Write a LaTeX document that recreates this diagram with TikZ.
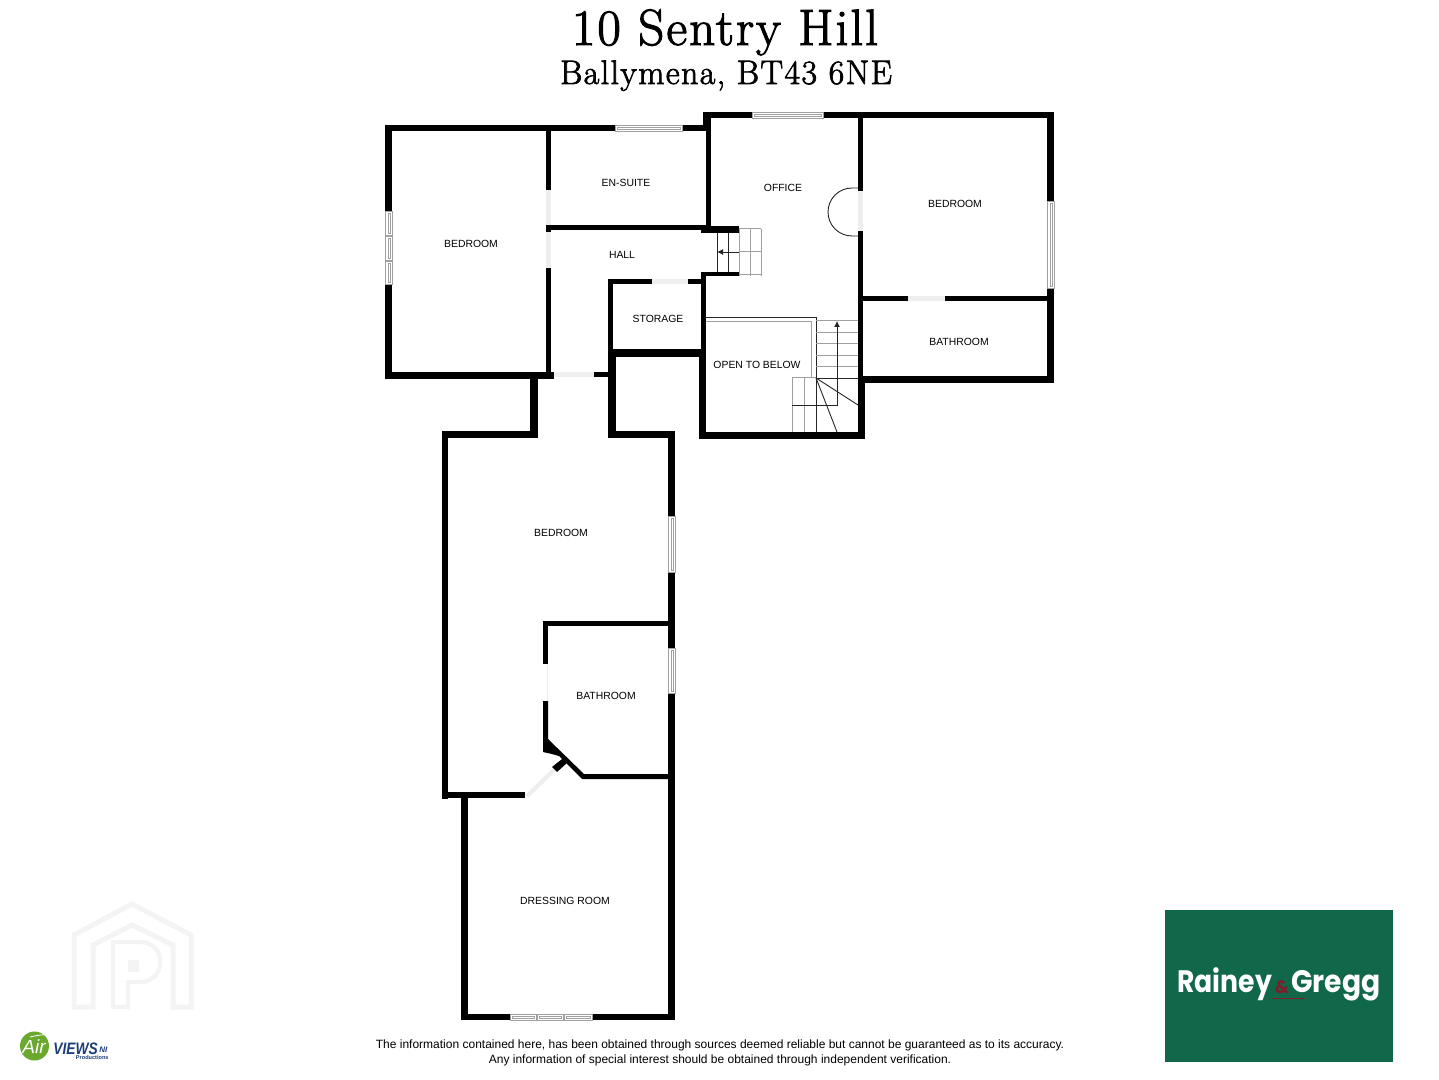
\documentclass[tikz,border=0pt]{standalone}
\usepackage{fontspec}
\setsansfont{Liberation Sans}
\newfontfamily\logofont{Poppins}
\newfontfamily\titlefont{Latin Modern Roman}[FakeBold=2,LetterSpace=4]
\usepackage{xcolor}
\usetikzlibrary{arrows.meta}
\definecolor{wallcolor}{RGB}{0,0,0}
\definecolor{stairgray}{RGB}{160,160,160}
\definecolor{doorgray}{RGB}{238,238,238}
\definecolor{markcolor}{RGB}{244,244,244}
\definecolor{agentgreen}{RGB}{17,103,74}
\definecolor{agentred}{RGB}{125,30,40}
\definecolor{airgreen}{RGB}{106,168,46}
\definecolor{airblue}{RGB}{28,62,120}

\begin{document}
\begin{tikzpicture}[
    x=0.5pt, y=-0.5pt,
    room/.style={font=\sffamily\fontsize{5.2}{6}\selectfont, inner sep=0pt},
    notice/.style={font=\sffamily\fontsize{6}{7}\selectfont, inner sep=0pt},
    wall/.style={draw=none, fill=wallcolor},
    pane/.style={draw=stairgray, fill=white, line width=0.35pt},
    doorway/.style={fill=doorgray, draw=none},
    tread/.style={draw=stairgray, line width=0.5pt},
    rail/.style={draw=black!85, line width=0.45pt},
    stairarrow/.style={-{Latex[length=3pt,width=3pt]}, draw=black!85, line width=0.45pt},
    watermark/.style={draw=markcolor, line width=2.5pt, line join=miter}
]
    \useasboundingbox (0,0) rectangle (1439,1080);

    % Title
    \node[font=\titlefont\fontsize{25.5}{28}\selectfont, inner sep=0pt, anchor=base] (title) at (725,45) {10 Sentry Hill};
    \node[font=\titlefont\fontsize{17}{18}\selectfont, inner sep=0pt, anchor=base] (address) at (726,84) {Ballymena, BT43 6NE};

    % Watermark
    \draw[watermark] (74,935) -- (132,904) -- (191,935) -- (191,1007) -- (173,1007) -- (173,945) -- (132,925) -- (93,945) -- (93,1007) -- (74,1007) -- cycle;
    \draw[watermark, line width=2.2pt] (113,1007) -- (113,942) -- (140,942) .. controls (167,942) and (167,982) .. (140,982) -- (128,982) -- (128,1007) -- cycle;
    \fill[markcolor] (128,960) rectangle (139,972);

    % Door gaps
    \fill[doorway] (546,190) rectangle (551,225);
    \fill[doorway] (546,232) rectangle (551,268);
    \fill[doorway] (554,372) rectangle (594,377);
    \fill[doorway] (652,279) rectangle (688,284);
    \fill[doorway] (858,191) rectangle (863,231);
    \fill[doorway] (908,296) rectangle (945,301);
    \fill[doorway] (547,664) rectangle (548,701);
    \fill[doorway] (553,768) -- (556,771) -- (528,798) -- (525,795) -- cycle;

    % Walls upper floor
    \fill[wall] (385,125) rectangle (615,131);
    \fill[wall] (682,125) rectangle (706,131);
    \fill[wall] (385,125) rectangle (392,211);
    \fill[wall] (385,284) rectangle (392,379);
    \fill[wall] (385,372) rectangle (554,379);
    \fill[wall] (546,131) rectangle (551,190);
    \fill[wall] (546,225) rectangle (551,232);
    \fill[wall] (546,268) rectangle (551,372);
    \fill[wall] (551,225) rectangle (706,230);
    \fill[wall] (701,226) rectangle (739,233);
    \fill[wall] (703,112) rectangle (709,125);
    \fill[wall] (706,118) rectangle (711,228);
    \fill[wall] (703,112) rectangle (752,118);
    \fill[wall] (823,112) rectangle (1054,118);
    \fill[wall] (858,118) rectangle (863,191);
    \fill[wall] (858,231) rectangle (863,382);
    \fill[wall] (858,376) rectangle (865,439);
    \fill[wall] (1047,112) rectangle (1054,201);
    \fill[wall] (1047,288) rectangle (1054,383);
    \fill[wall] (858,376) rectangle (1054,383);
    \fill[wall] (863,296) rectangle (908,301);
    \fill[wall] (945,296) rectangle (1047,301);
    \fill[wall] (701,272) rectangle (739,276);
    \fill[wall] (701,272) rectangle (706,350);
    \fill[wall] (699,350) rectangle (706,439);
    \fill[wall] (699,432) rectangle (865,439);
    \fill[wall] (608,279) rectangle (652,284);
    \fill[wall] (688,279) rectangle (706,284);
    \fill[wall] (608,279) rectangle (613,350);
    \fill[wall] (608,349) rectangle (706,357);
    \fill[wall] (608,349) rectangle (616,438);
    \fill[wall] (594,372) rectangle (608,377);
    \fill[wall] (530,377) rectangle (538,438);

    % Walls lower floor
    \fill[wall] (442,431) rectangle (538,438);
    \fill[wall] (608,431) rectangle (675,438);
    \fill[wall] (442,431) rectangle (448,799);
    \fill[wall] (442,792) rectangle (525,798);
    \fill[wall] (668,431) rectangle (675,516);
    \fill[wall] (668,572) rectangle (675,648);
    \fill[wall] (668,693) rectangle (675,1020);
    \fill[wall] (543,621) rectangle (668,626);
    \fill[wall] (543,621) rectangle (548,664);
    \fill[wall] (543,701) -- (548,701) -- (548,739) -- (584,774) -- (668,774) -- (668,779) -- (582,779) -- (559,756) -- (552,754) -- (543,752) -- cycle;
    \fill[wall] (562,759) -- (567,763) -- (557,772) -- (552,767) -- cycle;
    \fill[wall] (461,798) rectangle (468,1020);
    \fill[wall] (461,1014) rectangle (510,1020);
    \fill[wall] (592,1014) rectangle (675,1020);

    % Windows
    \draw[pane] (615,125) rectangle (682,131);
    \draw[pane] (617,127) rectangle (680,129);
    \draw[pane] (752,112) rectangle (823,118);
    \draw[pane] (754,114) rectangle (821,116);
    \draw[pane] (1047,201) rectangle (1054,288);
    \draw[pane] (1050,203) rectangle (1052,286);
    \draw[pane] (668,516) rectangle (675,572);
    \draw[pane] (671,518) rectangle (673,570);
    \draw[pane] (668,648) rectangle (675,693);
    \draw[pane] (671,650) rectangle (673,691);
    \foreach \ya/\yb in {211/235,236/260,261/284} {
        \draw[pane] (385,\ya) rectangle (392,\yb);
        \draw[pane] (388,\ya+2) rectangle (390,\yb-2);
    }
    \foreach \xa/\xb in {510/536,537/563,564/592} {
        \draw[pane] (\xa,1014) rectangle (\xb,1020);
        \draw[pane] (\xa+2,1016) rectangle (\xb-2,1018);
    }

    % Door swing
    \draw[rail] (858,188) -- (852,188) arc[start angle=270, end angle=90, radius=24] -- (858,236);

    % Upper stairs
    \foreach \x in {739,750,761} { \draw[tread] (\x,229) -- (\x,276); }
    \draw[tread] (739,229) -- (761,229);
    \draw[tread] (739,252) -- (761,252);
    \draw[tread] (739,275) -- (761,275);
    \foreach \x in {717,728} { \draw[rail] (\x,233) -- (\x,272); }
    \draw[stairarrow] (739,252) -- (717,252);

    % Lower stairs
    \draw[rail] (706,317) -- (816,317) -- (816,378);
    \draw[tread] (706,322) -- (811,322) -- (811,378);
    \foreach \y in {321,333,344,356,367} { \draw[tread] (816,\y) -- (858,\y); }
    \draw[rail] (816,378) -- (858,378);
    \draw[tread] (792,378) -- (816,378);
    \foreach \x in {792,804} { \draw[tread] (\x,378) -- (\x,432); }
    \draw[rail] (816,378) -- (816,432);
    \draw[rail] (816,378) -- (858,405);
    \draw[rail] (816,378) -- (837,432);
    \draw[stairarrow] (792,405) -- (837,405) -- (837,321);

    % Room labels
    \node[room] (bedwest) at (471,244) {BEDROOM};
    \node[room] (ensuite) at (626,183) {EN-SUITE};
    \node[room] (hall) at (622,255) {HALL};
    \node[room] (storage) at (658,319) {STORAGE};
    \node[room] (office) at (783,188) {OFFICE};
    \node[room] (bedeast) at (955,204) {BEDROOM};
    \node[room] (batheast) at (959,342) {BATHROOM};
    \node[room] (openbelow) at (757,365) {OPEN TO BELOW};
    \node[room] (bedlower) at (561,533) {BEDROOM};
    \node[room] (bathlower) at (606,696) {BATHROOM};
    \node[room] (dressing) at (565,901) {DRESSING ROOM};

    % Notice
    \node[notice] (noticeone) at (720,1045) {The information contained here, has been obtained through sources deemed reliable but cannot be guaranteed as to its accuracy.};
    \node[notice] (noticetwo) at (720,1060) {Any information of special interest should be obtained through independent verification.};

    % Agent logo
    \fill[agentgreen] (1165,910) rectangle (1393,1062);
    \node[font=\logofont\bfseries\fontsize{15.5}{18}\selectfont, text=white, inner sep=0pt, anchor=base west] (rainey) at (1177,992) {\scalebox{0.86}[1]{Rainey}};
    \node[font=\logofont\bfseries\fontsize{9}{10}\selectfont, text=agentred, inner sep=0pt, anchor=base] (amp) at (1282,993) {\&};
    \node[font=\logofont\bfseries\fontsize{15.5}{18}\selectfont, text=white, inner sep=0pt, anchor=base east] (gregg) at (1381,992) {\scalebox{0.91}[1]{Gregg}};
    \draw[agentred, line width=0.4pt] (1272,998) -- (1305,998);

    % Air Views logo
    \fill[airgreen] (34.5,1046) circle[radius=14.5];
    \draw[white, line width=0.4pt] (30,1037) .. controls (38,1035) and (46,1034) .. (56,1035);
    \node[font=\sffamily\itshape\fontsize{9.5}{10}\selectfont, text=white, inner sep=0pt, anchor=base] (airword) at (34,1053) {Air};
    \node[font=\sffamily\bfseries\itshape\fontsize{8.3}{10}\selectfont, text=airblue, inner sep=0pt, anchor=base west] (viewsword) at (53,1054) {\scalebox{0.83}[1]{VIEWS}};
    \node[font=\sffamily\bfseries\itshape\fontsize{4}{5}\selectfont, text=airblue, inner sep=0pt, anchor=base west] (niword) at (99,1052) {NI};
    \node[font=\sffamily\bfseries\fontsize{2.8}{3}\selectfont, text=airblue, inner sep=0pt, anchor=base east] (prodword) at (109,1059) {Productions};
\end{tikzpicture}
\end{document}
